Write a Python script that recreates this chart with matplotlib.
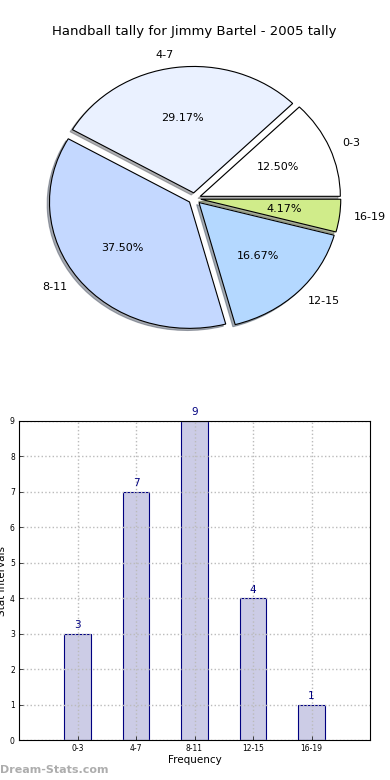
import numpy as np
import matplotlib
matplotlib.use("Agg")
import matplotlib.pyplot as plt

# tally data
labels = ["0-3", "4-7", "8-11", "12-15", "16-19"]
counts = [3, 7, 9, 4, 1]
pie_colors = ["#ffffff", "#eaf1ff", "#c4d8ff", "#b4d8ff", "#d0ec8a"]
explode = [0.045, 0.045, 0.045, 0.045, 0.045]

fig = plt.figure(figsize=(3.9, 7.8), dpi=100)

# pie (old style, not equal aspect -> slightly elliptical)
ax1 = fig.add_axes([19.5/390, 1 - 356.5/780, 350/390, 316/780])
wedges, texts, autotexts = ax1.pie(counts, labels=labels, colors=pie_colors,
                                   explode=explode, autopct="%1.2f%%",
                                   shadow=dict(ox=-0.012, oy=-0.012, shade=0.6),
                                   startangle=0,
                                   labeldistance=1.1, pctdistance=0.6,
                                   wedgeprops=dict(edgecolor="black", linewidth=0.8),
                                   textprops=dict(fontsize=8))
ax1.set_aspect("auto")
ax1.set_xlim(-1.25, 1.25)
ax1.set_ylim(-1.25, 1.25)
ax1.set_title("Handball tally for Jimmy Bartel - 2005 tally", fontsize=9.5, pad=4)

# bar chart
ax2 = fig.add_axes([19/390, 40/780, 351/390, 319/780])
x = np.arange(1, len(labels) + 1)
bars = ax2.bar(x, counts, width=0.45, color="#cccce6", edgecolor="#000080", linewidth=0.8)
for xi, c in zip(x, counts):
    ax2.text(xi, c + 0.1, str(c), ha="center", va="bottom", color="#000080", fontsize=7.5)
ax2.set_xlim(0, 6)
ax2.set_ylim(0, 9)
ax2.set_xticks(x)
ax2.set_xticklabels(labels, fontsize=5.5)
ax2.set_yticks(range(10))
ax2.tick_params(axis="y", labelsize=5.5)
ax2.tick_params(direction="in", length=3, width=0.5, pad=3)
ax2.grid(True, linestyle=":", color="#bbbbbb", linewidth=1)
ax2.set_axisbelow(False)
for sp in ax2.spines.values():
    sp.set_zorder(5)
ax2.set_xlabel("Frequency", fontsize=7.5, labelpad=1)
ax2.set_ylabel("Stat Intervals", fontsize=7.5, labelpad=2)

fig.text(0.0, 1 - 770/780, "Dream-Stats.com", color="#999999", fontsize=8,
         ha="left", va="center", fontweight="bold", alpha=0.8)

fig.savefig("out.png", dpi=100)
